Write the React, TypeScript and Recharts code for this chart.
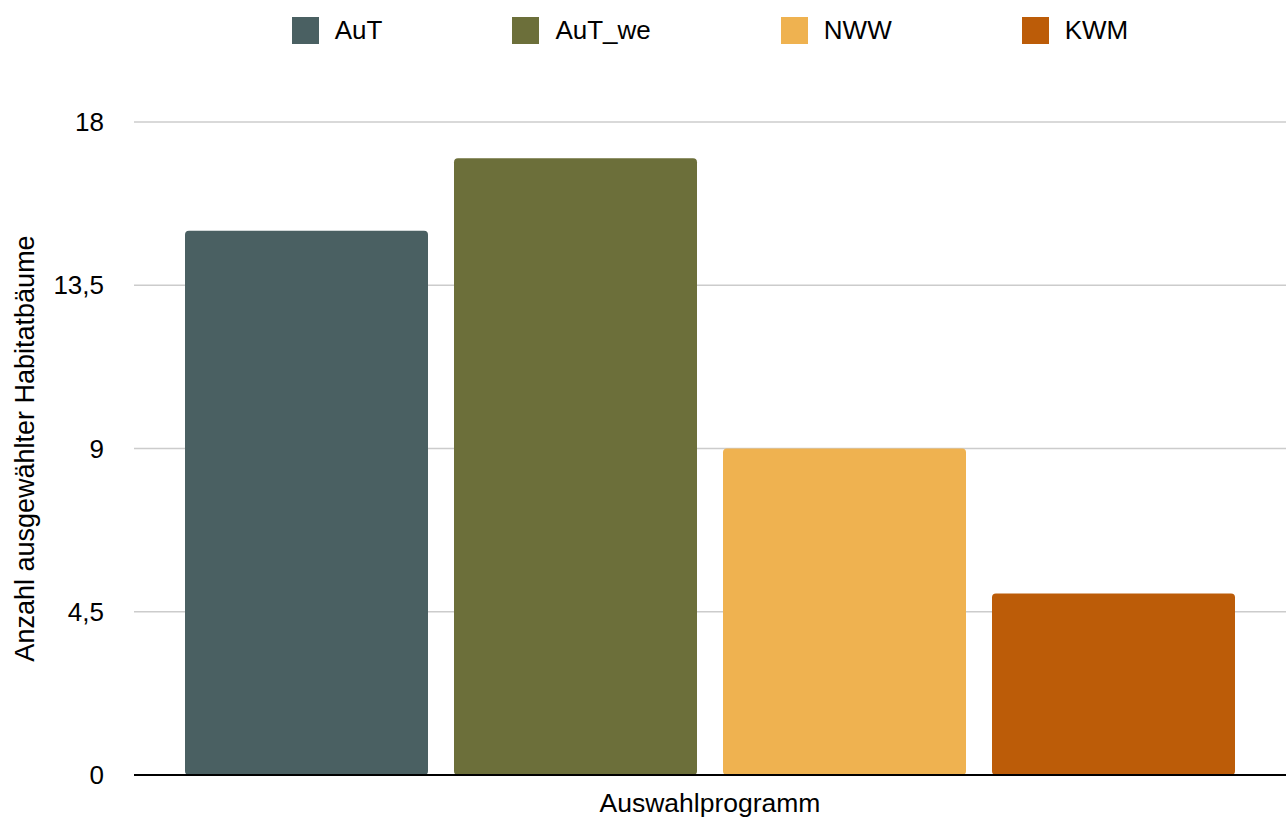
import { BarChart, Bar, XAxis, YAxis, CartesianGrid, Legend } from 'recharts'

// Auswahlprogramme und Anzahl ausgewählter Habitatbäume
const category = 'Auswahlprogramm'
const programme = ['AuT', 'AuT_we', 'NWW', 'KWM']
const anzahl = [15, 17, 9, 5]
const farben = ['#4a6062', '#6c6f3a', '#efb250', '#bc5c08']
const yTicks = [0, 4.5, 9, 13.5, 18]

const row: Record<string, string | number> = { name: category }
programme.forEach((p, i) => {
  row[p] = anzahl[i]
})
const data = [row]

function LegendItems() {
  return (
    <div style={{ display: 'flex', justifyContent: 'center', height: 27 }}>
      {programme.map((p, i) => (
        <div
          key={p}
          style={{
            display: 'flex',
            alignItems: 'center',
            marginRight: i < programme.length - 1 ? 130 : 0,
          }}
        >
          <div style={{ width: 27, height: 27, backgroundColor: farben[i], marginRight: 16 }} />
          <span style={{ fontSize: 26, lineHeight: '27px', color: '#000' }}>{p}</span>
        </div>
      ))}
    </div>
  )
}

export default function App() {
  return (
    <div
      style={{
        position: 'absolute',
        left: 0,
        top: 0,
        fontFamily: '"Liberation Sans", Arial, Helvetica, sans-serif',
        background: '#fff',
      }}
    >
      <BarChart
        width={1286}
        height={819}
        data={data}
        margin={{ top: 95, right: 0, bottom: 0, left: 0 }}
        barCategoryGap={51}
        barGap={26}
      >
        <CartesianGrid vertical={false} stroke="#cccccc" strokeWidth={1.5} />
        <Legend
          verticalAlign="top"
          content={<LegendItems />}
          wrapperStyle={{ left: 134, width: 1152, top: 17 }}
        />
        <XAxis
          dataKey="name"
          height={44}
          tickLine={false}
          tickMargin={12}
          axisLine={{ stroke: '#000', strokeWidth: 2 }}
          tick={{ fontSize: 26.5, fill: '#000' }}
        />
        <YAxis
          width={134}
          domain={[0, 18]}
          ticks={yTicks}
          interval={0}
          axisLine={false}
          tickLine={false}
          tickMargin={24}
          tick={{ fontSize: 26, fill: '#000' }}
          tickFormatter={(v: number) => String(v).replace('.', ',')}
          label={{
            value: 'Anzahl ausgewählter Habitatbäume',
            angle: -90,
            position: 'center',
            dx: -43,
            style: { fontSize: 27, fill: '#000', textAnchor: 'middle' },
          }}
        />
        {programme.map((p, i) => (
          <Bar key={p} dataKey={p} fill={farben[i]} radius={[4, 4, 4, 4]} isAnimationActive={false} />
        ))}
      </BarChart>
    </div>
  )
}
